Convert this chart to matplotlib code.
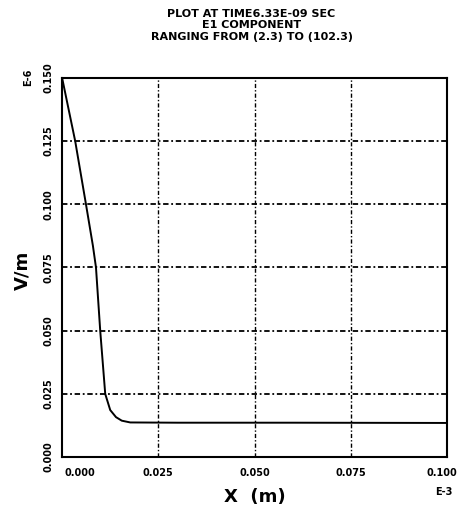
import matplotlib
matplotlib.use("Agg")
import matplotlib.pyplot as plt
import matplotlib.transforms as mtransforms

# field profile (x in E-3 m, E in E-6 V/m)
x_vals = [0.0, 0.0034, 0.0062, 0.0080, 0.0088, 0.0099, 0.0112, 0.0125, 0.0140, 0.0155, 0.0177, 0.030, 0.060, 0.100]
e_vals = [0.150, 0.125, 0.100, 0.0836, 0.075, 0.050, 0.025, 0.0186, 0.0158, 0.0144, 0.0137, 0.0136, 0.0136, 0.0135]

x_ticks = [0.0, 0.025, 0.050, 0.075, 0.100]
x_ticklabels = ["0.000", "0.025", "0.050", "0.075", "0.100"]
y_ticks = [0.0, 0.025, 0.050, 0.075, 0.100, 0.125, 0.150]
y_ticklabels = ["0.000", "0.025", "0.050", "0.075", "0.100", "0.125", "0.150"]

title_lines = ["PLOT AT TIME6.33E-09 SEC", "E1 COMPONENT", "RANGING FROM (2.3) TO (102.3)"]

fig = plt.figure(figsize=(4.6, 5.09), dpi=100)
ax = fig.add_axes([0.135, 0.102, 0.837, 0.745])

ax.plot(x_vals, e_vals, color="black", lw=1.4)
ax.set_xlim(0, 0.1)
ax.set_ylim(0, 0.15)

# grid lines (dash-dot like the original plotter output)
for xv in x_ticks[1:-1]:
    ax.axvline(xv, color="black", lw=1.0, ls=(0, (3, 1.5, 1, 1.5)))
for yv in y_ticks[1:-1]:
    ax.axhline(yv, color="black", lw=1.3, ls=(0, (3, 1.5, 1, 1.5)))

ax.set_xticks(x_ticks)
ax.set_xticklabels(x_ticklabels, fontsize=7, fontweight="bold")
ax.set_yticks(y_ticks)
ax.set_yticklabels(y_ticklabels, fontsize=7, fontweight="bold", rotation=90, va="center")
ax.tick_params(axis="x", length=0, pad=8)
ax.tick_params(axis="y", length=0, pad=6)
xl = ax.get_xticklabels()
xl[0].set_transform(xl[0].get_transform() + mtransforms.ScaledTranslation(2 / 72, 0, fig.dpi_scale_trans))
xl[0].set_ha("left")
xl[-1].set_transform(xl[-1].get_transform() + mtransforms.ScaledTranslation(-4 / 72, 0, fig.dpi_scale_trans))
for s in ax.spines.values():
    s.set_linewidth(1.5)

fig.text(0.555, 0.024, "X  (m)", ha="center", va="center", fontsize=13, fontweight="bold")
fig.text(0.048, 0.468, "V/m", ha="center", va="center", fontsize=13, fontweight="bold", rotation=90)
fig.text(0.061, 0.849, "E-6", ha="center", va="center", fontsize=7, fontweight="bold", rotation=90)
fig.text(0.965, 0.033, "E-3", ha="center", va="center", fontsize=7, fontweight="bold")

for i, (line, yy) in enumerate(zip(title_lines, [0.972, 0.951, 0.927])):
    fig.text(0.547, yy, line, ha="center", va="center", fontsize=8, fontweight="bold")

fig.savefig("out.png", dpi=100)
